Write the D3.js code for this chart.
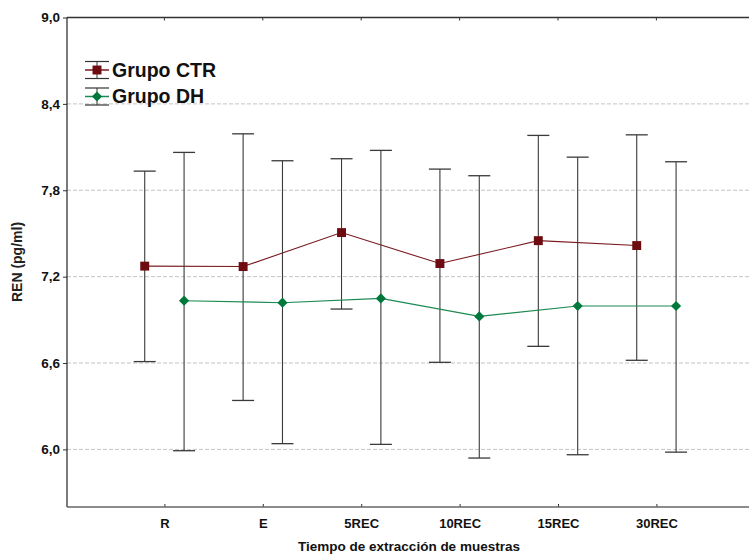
<!DOCTYPE html>
<html><head><meta charset="utf-8">
<script src="https://cdn.jsdelivr.net/npm/d3@7"></script>
<style>body{margin:0;background:#fff}svg{display:block;font-family:"Liberation Sans",Arial,sans-serif}</style>
</head><body><svg id="c" width="749" height="555"></svg>
<script>
const categories = ["R","E","5REC","10REC","15REC","30REC"];
const ctrMean  = [7.273, 7.270, 7.506, 7.291, 7.450, 7.416];
const ctrLow   = [6.610, 6.340, 6.975, 6.605, 6.716, 6.619];
const ctrHigh  = [7.933, 8.192, 8.019, 7.947, 8.181, 8.185];
const dhMean   = [7.033, 7.019, 7.049, 6.924, 6.996, 6.996];
const dhLow    = [5.991, 6.040, 6.035, 5.940, 5.963, 5.981];
const dhHigh   = [8.063, 8.005, 8.077, 7.901, 8.030, 7.998];
const yTicks   = [9.0, 8.4, 7.8, 7.2, 6.6, 6.0];
const seriesNames = ["Grupo CTR", "Grupo DH"];
const xTitle = "Tiempo de extracción de muestras";
const yTitle = "REN (pg/ml)";

const svg = d3.select("#c");
const L = 67, T = 17.5, B = 507, R = 760;
const x = d3.scaleLinear().domain([0, 7]).range([66, 754.8]);
const y = d3.scaleLinear().domain([5.6, 9.0]).range([B, T]);
const fmt = v => v.toFixed(1).replace(".", ",");

// grid
svg.append("g").selectAll("line").data(yTicks.filter(v => v < 9)).join("line")
  .attr("x1", L).attr("x2", R).attr("y1", d => y(d)).attr("y2", d => y(d))
  .attr("stroke", "#c4c4c4").attr("stroke-width", 1).attr("stroke-dasharray", "4,2");

// y axis
const yAxis = d3.axisLeft(y).tickValues(yTicks).tickFormat(fmt).tickSize(4).tickPadding(3);
const gy = svg.append("g").attr("transform", `translate(${L},0)`).call(yAxis);
gy.select(".domain").remove();
gy.selectAll(".tick line").attr("stroke", "#333");
gy.selectAll(".tick text").attr("font-size", 13.5).attr("font-weight", "bold")
  .attr("fill", "#111").attr("font-family", "Liberation Sans, Arial, sans-serif");

// x axis (bottom)
const xAxis = d3.axisBottom(x).tickValues(d3.range(1, categories.length + 1))
  .tickFormat(i => categories[i - 1]).tickSize(-3).tickPadding(12);
const gx = svg.append("g").attr("transform", `translate(0,${B})`).call(xAxis);
gx.select(".domain").remove();
gx.selectAll(".tick line").attr("stroke", "#333");
gx.selectAll(".tick text").attr("font-size", 13).attr("font-weight", "bold")
  .attr("fill", "#111").attr("font-family", "Liberation Sans, Arial, sans-serif");

// top ticks
svg.append("g").selectAll("line").data(d3.range(1, categories.length + 1)).join("line")
  .attr("x1", d => x(d)).attr("x2", d => x(d)).attr("y1", T).attr("y2", T + 3)
  .attr("stroke", "#333");

// frame
svg.append("line").attr("x1", L).attr("x2", L).attr("y1", T).attr("y2", B).attr("stroke", "#222").attr("stroke-width", 1.2);
svg.append("line").attr("x1", L).attr("x2", R).attr("y1", T).attr("y2", T).attr("stroke", "#333").attr("stroke-width", 1.3);
svg.append("line").attr("x1", L).attr("x2", R).attr("y1", B).attr("y2", B).attr("stroke", "#666").attr("stroke-width", 1.6);

const series = [
  {name: seriesNames[0], mean: ctrMean, lo: ctrLow, hi: ctrHigh, off: -0.2, color: "#6e0b10", line: "#7a1a1f", rot: 0, size: 80},
  {name: seriesNames[1], mean: dhMean, lo: dhLow, hi: dhHigh, off: 0.2, color: "#00783c", line: "#1b8a52", rot: 45, size: 52}
];
const capW = 11;
series.forEach(s => {
  const pts = s.mean.map((m, i) => ({x: x(i + 1 + s.off), m, lo: s.lo[i], hi: s.hi[i]}));
  const g = svg.append("g");
  g.selectAll("line.eb").data(pts).join("line").attr("class", "eb")
    .attr("x1", d => d.x).attr("x2", d => d.x).attr("y1", d => y(d.lo)).attr("y2", d => y(d.hi))
    .attr("stroke", "#3a3a3a").attr("stroke-width", 1.1);
  ["lo", "hi"].forEach(k => {
    g.selectAll("line.c" + k).data(pts).join("line").attr("class", "c" + k)
      .attr("x1", d => d.x - capW).attr("x2", d => d.x + capW)
      .attr("y1", d => y(d[k])).attr("y2", d => y(d[k]))
      .attr("stroke", "#3a3a3a").attr("stroke-width", 1.3);
  });
  g.append("path").datum(pts).attr("fill", "none").attr("stroke", s.line).attr("stroke-width", 1.1)
    .attr("d", d3.line().x(d => d.x).y(d => y(d.m)));
  g.selectAll("path.m").data(pts).join("path").attr("class", "m")
    .attr("transform", d => `translate(${d.x},${y(d.m)}) rotate(${s.rot})`)
    .attr("d", d3.symbol().type(d3.symbolSquare).size(s.size)).attr("fill", s.color);
});

// legend
const leg = svg.append("g");
series.forEach((s, i) => {
  const cy = 70 + i * 26.5, cx = 97;
  leg.append("line").attr("x1", cx).attr("x2", cx).attr("y1", cy - 8.5).attr("y2", cy + 8.5).attr("stroke", "#333");
  [-8.5, 8.5].forEach(o => leg.append("line").attr("x1", cx - 12).attr("x2", cx + 12)
    .attr("y1", cy + o).attr("y2", cy + o).attr("stroke", "#333").attr("stroke-width", 1.2));
  leg.append("line").attr("x1", cx - 12).attr("x2", cx + 12).attr("y1", cy).attr("y2", cy)
    .attr("stroke", s.line).attr("stroke-width", 1.5);
  leg.append("path").attr("transform", `translate(${cx},${cy}) rotate(${s.rot})`)
    .attr("d", d3.symbol().type(d3.symbolSquare).size(s.size)).attr("fill", s.color);
  leg.append("text").attr("x", 112).attr("y", cy + 6.5).attr("font-size", 19.5).attr("font-weight", "bold")
    .attr("fill", "#111").text(s.name);
});

// titles
svg.append("text").attr("x", 409).attr("y", 551).attr("text-anchor", "middle")
  .attr("font-size", 13.5).attr("font-weight", "bold").attr("fill", "#111").text(xTitle);
svg.append("text").attr("transform", "translate(22,262) rotate(-90)").attr("text-anchor", "middle")
  .attr("font-size", 14).attr("font-weight", "bold").attr("fill", "#222").text(yTitle);
</script></body></html>
